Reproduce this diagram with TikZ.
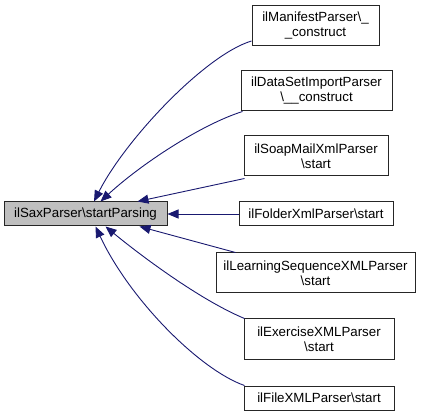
\documentclass[tikz,border=0pt]{standalone}
\usepackage{fontspec}
\setmainfont{Liberation Sans}
\usetikzlibrary{arrows.meta,calc}
\definecolor{edgeblue}{RGB}{25,25,112}
\definecolor{maingray}{RGB}{191,191,191}
\tikzset{
  box/.style={draw=black!85, line width=1pt, fill=white, inner sep=0pt, align=center,
    font=\fontsize{13.3}{15}\selectfont},
  mainbox/.style={box, fill=maingray},
  edge/.style={draw=edgeblue, line width=0.9pt, -{Triangle[length=11pt,width=9pt]}},
}
\begin{document}
\begin{tikzpicture}[x=1pt,y=-1pt]
\useasboundingbox (0,0) rectangle (421,417);
\node[mainbox, minimum width=163pt, minimum height=24pt] (main) at (85.5,214) {ilSaxParser\textbackslash startParsing};
\node[box, minimum width=127pt, minimum height=40pt] (m1) at (315.5,26) {ilManifestParser\textbackslash\_\\\_construct};
\node[box, minimum width=151pt, minimum height=40pt] (m2) at (316.5,91) {ilDataSetImportParser\\\textbackslash\_\_construct};
\node[box, minimum width=144pt, minimum height=40pt] (m3) at (316,156) {ilSoapMailXmlParser\\\textbackslash start};
\node[box, minimum width=154pt, minimum height=24pt] (m4) at (316,214) {ilFolderXmlParser\textbackslash start};
\node[box, minimum width=199pt, minimum height=40pt] (m5) at (315.5,273) {ilLearningSequenceXMLParser\\\textbackslash start};
\node[box, minimum width=150pt, minimum height=40pt] (m6) at (319,339) {ilExerciseXMLParser\\\textbackslash start};
\node[box, minimum width=150pt, minimum height=24pt] (m7) at (319,398) {ilFileXMLParser\textbackslash start};

\draw[edge] ([yshift=-15pt]m1.west) .. controls (205,55) and (125,140) .. ([xshift=8.5pt]main.north);
\draw[edge] ([xshift=2pt]m2.south west) .. controls (200,125) and (140,165) .. ([xshift=15pt]main.north);
\draw[edge] ([yshift=-2pt,xshift=1pt]m3.south west) -- ([xshift=52pt]main.north);
\draw[edge] (m4.west) -- (main.east);
\draw[edge] ([xshift=20pt]m5.north west) -- ([xshift=54pt]main.south);
\draw[edge] ([xshift=1pt]m6.north west) .. controls (200,300) and (140,255) .. ([xshift=20pt]main.south);
\draw[edge] ([xshift=1pt]m7.north west) .. controls (200,370) and (130,300) .. ([xshift=10pt]main.south);
\end{tikzpicture}
\end{document}
